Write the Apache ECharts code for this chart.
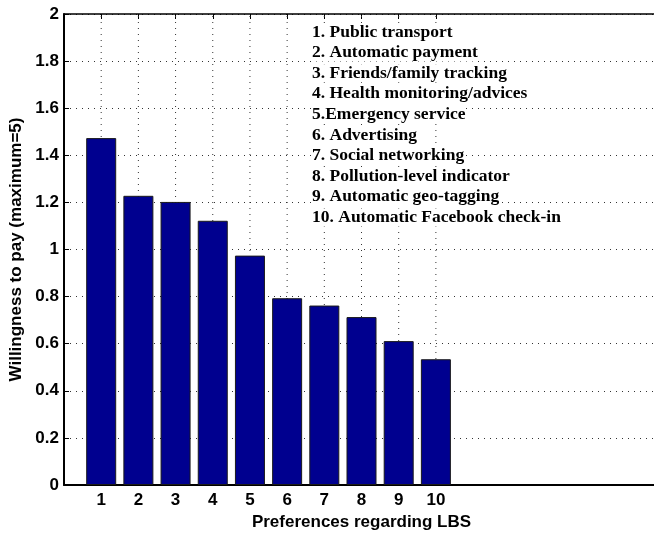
<!DOCTYPE html>
<html>
<head>
<meta charset="utf-8">
<script src="https://cdn.jsdelivr.net/npm/echarts@6/dist/echarts.min.js"></script>
<style>
  html, body { margin: 0; padding: 0; background: #fff; }
  #chart { width: 654px; height: 533px; }
</style>
</head>
<body>
<div id="chart"></div>
<script>
// Preference index on the x axis and mean willingness to pay for each
const categories = [1, 2, 3, 4, 5, 6, 7, 8, 9, 10];
const willingness = [1.473, 1.228, 1.202, 1.122, 0.974, 0.793, 0.762, 0.713, 0.611, 0.534];
const yTicks = [0, 0.2, 0.4, 0.6, 0.8, 1, 1.2, 1.4, 1.6, 1.8, 2];
const preferenceNames = [
  '1. Public transport',
  '2. Automatic payment',
  '3. Friends/family tracking',
  '4. Health monitoring/advices',
  '5.Emergency service',
  '6. Advertising',
  '7. Social networking',
  '8. Pollution-level indicator',
  '9. Automatic geo-tagging',
  '10. Automatic Facebook check-in'
];

const X_MAX = 16;
const sansBold = { fontFamily: 'Liberation Sans, Arial, sans-serif', fontWeight: 'bold', fontSize: 17, color: '#000' };

const chart = echarts.init(document.getElementById('chart'), null, { renderer: 'canvas' });

const barData = categories.map((c, i) => [c, willingness[i]]);

// Legend-like list of preferences, one text line each with its own white backing
const listLines = preferenceNames.map((t, i) => ({
  type: 'text',
  left: 312,
  top: 23 + i * 20.6,
  z: 100,
  style: {
    text: t,
    font: 'bold 17.5px "Liberation Serif", "Times New Roman", serif',
    fill: '#000',
    backgroundColor: '#fff',
    padding: [0, 0, 0, 0]
  }
}));

const option = {
  animation: false,
  backgroundColor: '#fff',
  grid: { left: 64, top: 14, width: 595, height: 471, containLabel: false, outerBoundsMode: 'none' },
  xAxis: [
    {
      type: 'value', position: 'bottom', min: 0, max: X_MAX, interval: 1,
      name: 'Preferences regarding LBS', nameLocation: 'middle', nameGap: 26,
      nameTextStyle: sansBold,
      axisLine: { show: true, onZero: false, lineStyle: { color: '#000', width: 2 } },
      axisTick: { show: true, inside: true, length: 5, customValues: categories, lineStyle: { color: '#000' } },
      axisLabel: { show: true, margin: 7, customValues: categories, ...sansBold },
      splitLine: { show: false }
    },
    {
      type: 'value', position: 'top', min: 0, max: X_MAX, interval: 1,
      axisLine: { show: true, onZero: false, lineStyle: { color: '#000', width: 1.5 } },
      axisTick: { show: true, inside: true, length: 5, customValues: categories, lineStyle: { color: '#000' } },
      axisLabel: { show: false },
      splitLine: { show: false }
    }
  ],
  yAxis: {
    type: 'value', min: 0, max: 2, interval: 0.2,
    name: 'Willingness to pay (maximum=5)', nameLocation: 'middle', nameGap: 39, nameRotate: 90,
    nameTextStyle: sansBold,
    axisLine: { show: true, lineStyle: { color: '#000', width: 2 } },
    axisTick: { show: true, inside: true, length: 5, lineStyle: { color: '#000' } },
    axisLabel: { margin: 5, ...sansBold, formatter: v => String(+v.toFixed(1)) },
    splitLine: { show: true, lineStyle: { color: '#333', width: 1, type: [1, 5] } }
  },
  series: [
    {
      // vertical dotted guide lines at each preference index
      type: 'custom',
      z: 1,
      silent: true,
      data: categories.map(c => [c]),
      renderItem: (params, api) => {
        const x = api.value(0);
        const p0 = api.coord([x, 0]);
        const p1 = api.coord([x, 2]);
        return {
          type: 'line',
          shape: { x1: p0[0], y1: p0[1], x2: p1[0], y2: p1[1] },
          style: { stroke: '#333', lineWidth: 1, lineDash: [1, 5] }
        };
      }
    },
    {
      type: 'bar',
      z: 3,
      barWidth: 30,
      data: barData,
      itemStyle: { color: '#00008f', borderColor: '#1a1a1a', borderWidth: 1 }
    }
  ],
  graphic: listLines
};

chart.setOption(option);
</script>
</body>
</html>
